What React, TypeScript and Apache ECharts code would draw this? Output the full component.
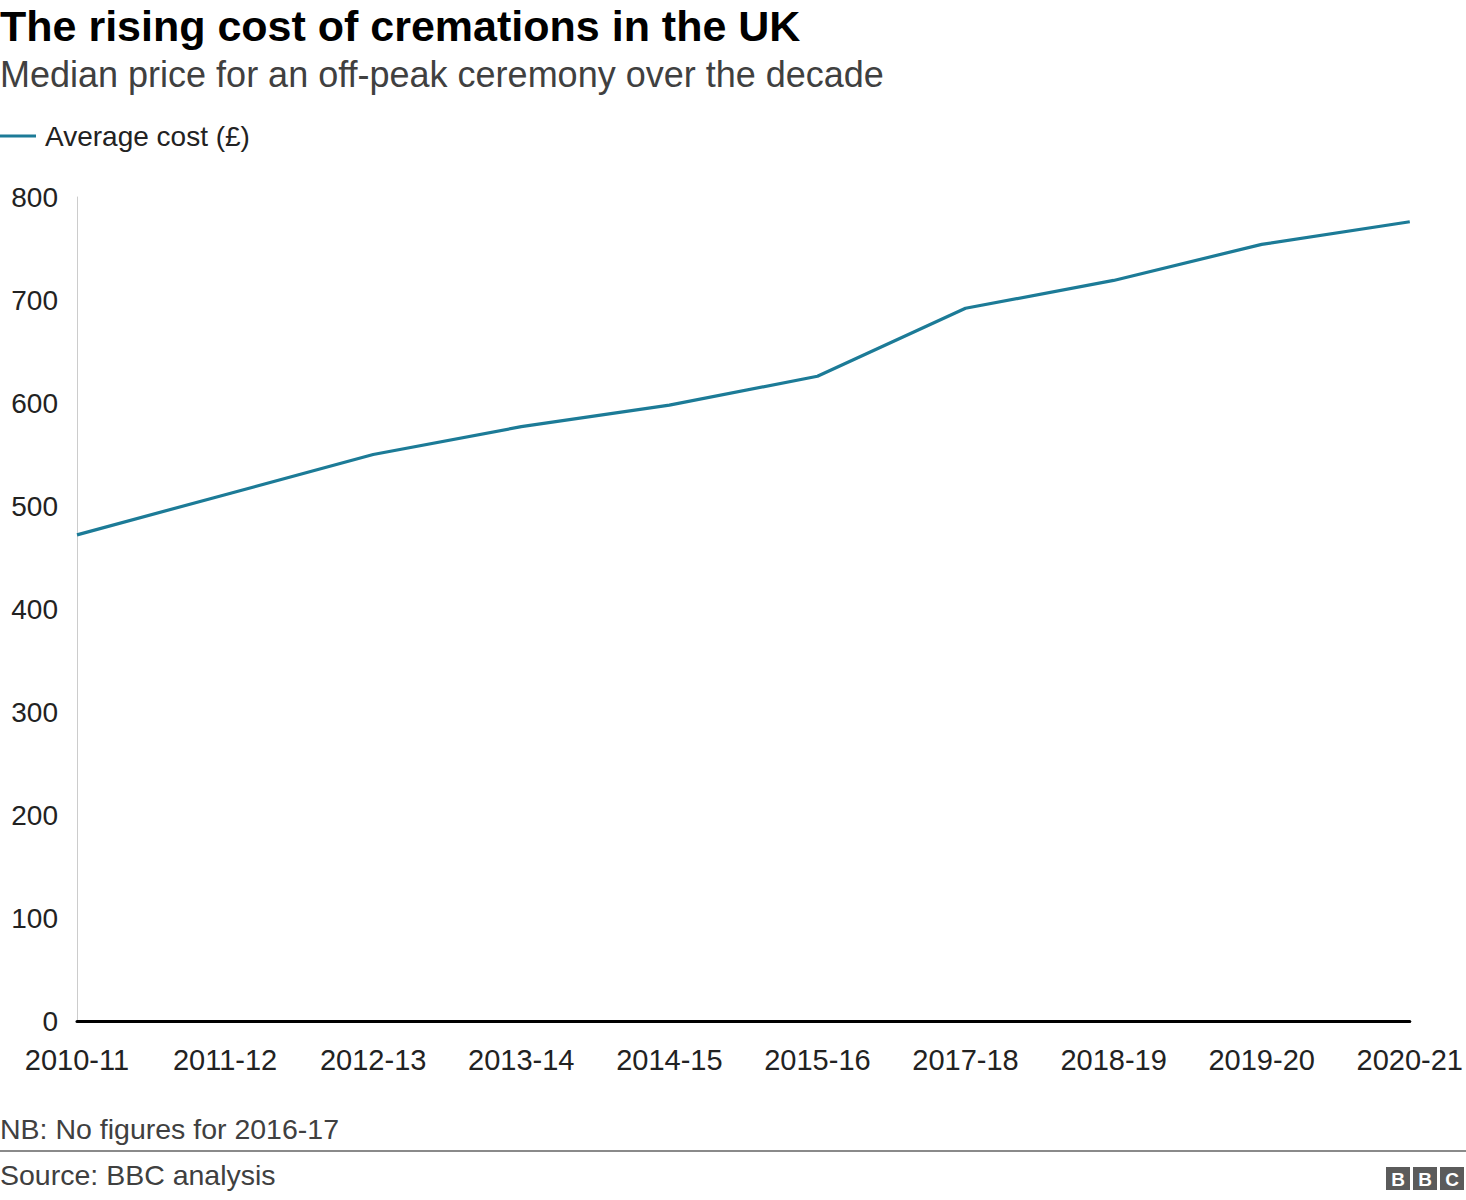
import React, { useEffect, useRef } from "react";
import * as echarts from "echarts";

const categories = [
  "2010-11",
  "2011-12",
  "2012-13",
  "2013-14",
  "2014-15",
  "2015-16",
  "2017-18",
  "2018-19",
  "2019-20",
  "2020-21",
];
const averageCost = [472, 511, 550, 577, 598, 626, 692, 719, 754, 776];
const seriesName = "Average cost (£)";
const titleText = "The rising cost of cremations in the UK";
const subtitleText = "Median price for an off-peak ceremony over the decade";
const noteText = "NB: No figures for 2016-17";
const sourceText = "Source: BBC analysis";

const FONT = "'Liberation Sans', Arial, Helvetica, sans-serif";
const LINE_COLOR = "#1c7b97";

export default function App() {
  const ref = useRef<HTMLDivElement>(null);
  useEffect(() => {
    document.body.style.margin = "0";
    if (!ref.current) return;
    const chart = echarts.init(ref.current, undefined, { renderer: "svg" });
    const logoLetters = ["B", "B", "C"];
    const logo = logoLetters.map((ch, i) => ({
      type: "group",
      x: 1386 + i * 27,
      y: 1167,
      children: [
        { type: "rect", shape: { x: 0, y: 0, width: 24, height: 23 }, style: { fill: "#5b5b5b" } },
        {
          type: "text",
          x: 12,
          y: 12,
          style: {
            text: ch,
            fill: "#ffffff",
            font: `bold 19px ${FONT}`,
            align: "center",
            verticalAlign: "middle",
          },
        },
      ],
    }));
    chart.setOption({
      animation: false,
      backgroundColor: "#ffffff",
      textStyle: { fontFamily: FONT },
      grid: { left: 77, right: 55, top: 197, bottom: 179, containLabel: false },
      legend: {
        left: 0,
        top: 122,
        padding: 0,
        icon: "rect",
        itemWidth: 36,
        itemHeight: 3,
        textStyle: { fontSize: 28, color: "#222222", fontFamily: FONT, padding: [0, 0, 0, 4] },
        data: [seriesName],
      },
      xAxis: {
        type: "category",
        data: categories,
        boundaryGap: false,
        axisLine: { show: true, lineStyle: { color: "#000000", width: 3 } },
        axisTick: { show: false },
        axisLabel: { fontSize: 29, color: "#222222", margin: 24, fontFamily: FONT, interval: 0 },
        splitLine: { show: false },
      },
      yAxis: {
        type: "value",
        min: 0,
        max: 800,
        interval: 100,
        axisLine: { show: true, lineStyle: { color: "#cccccc", width: 1 } },
        axisTick: { show: false },
        splitLine: { show: false },
        axisLabel: { fontSize: 28, color: "#222222", margin: 19, fontFamily: FONT },
      },
      series: [
        {
          name: seriesName,
          type: "line",
          data: averageCost,
          showSymbol: false,
          symbol: "none",
          lineStyle: { color: LINE_COLOR, width: 3.2 },
          itemStyle: { color: LINE_COLOR },
          z: 3,
        },
      ],
      graphic: [
        {
          type: "text",
          x: 0,
          y: 26,
          style: { text: titleText, font: `bold 43px ${FONT}`, fill: "#000000", verticalAlign: "middle" },
        },
        {
          type: "text",
          x: 0,
          y: 74,
          style: { text: subtitleText, font: `36px ${FONT}`, fill: "#404040", verticalAlign: "middle" },
        },
        {
          type: "text",
          x: 0,
          y: 1129,
          style: { text: noteText, font: `28.5px ${FONT}`, fill: "#404040", verticalAlign: "middle" },
        },
        {
          type: "rect",
          shape: { x: 0, y: 1150, width: 1466, height: 2 },
          style: { fill: "#8a8a8a" },
        },
        {
          type: "text",
          x: 0,
          y: 1175,
          style: { text: sourceText, font: `28.5px ${FONT}`, fill: "#404040", verticalAlign: "middle" },
        },
        ...logo,
      ],
    });
    return () => chart.dispose();
  }, []);
  return <div ref={ref} style={{ width: 1466, height: 1200 }} />;
}
